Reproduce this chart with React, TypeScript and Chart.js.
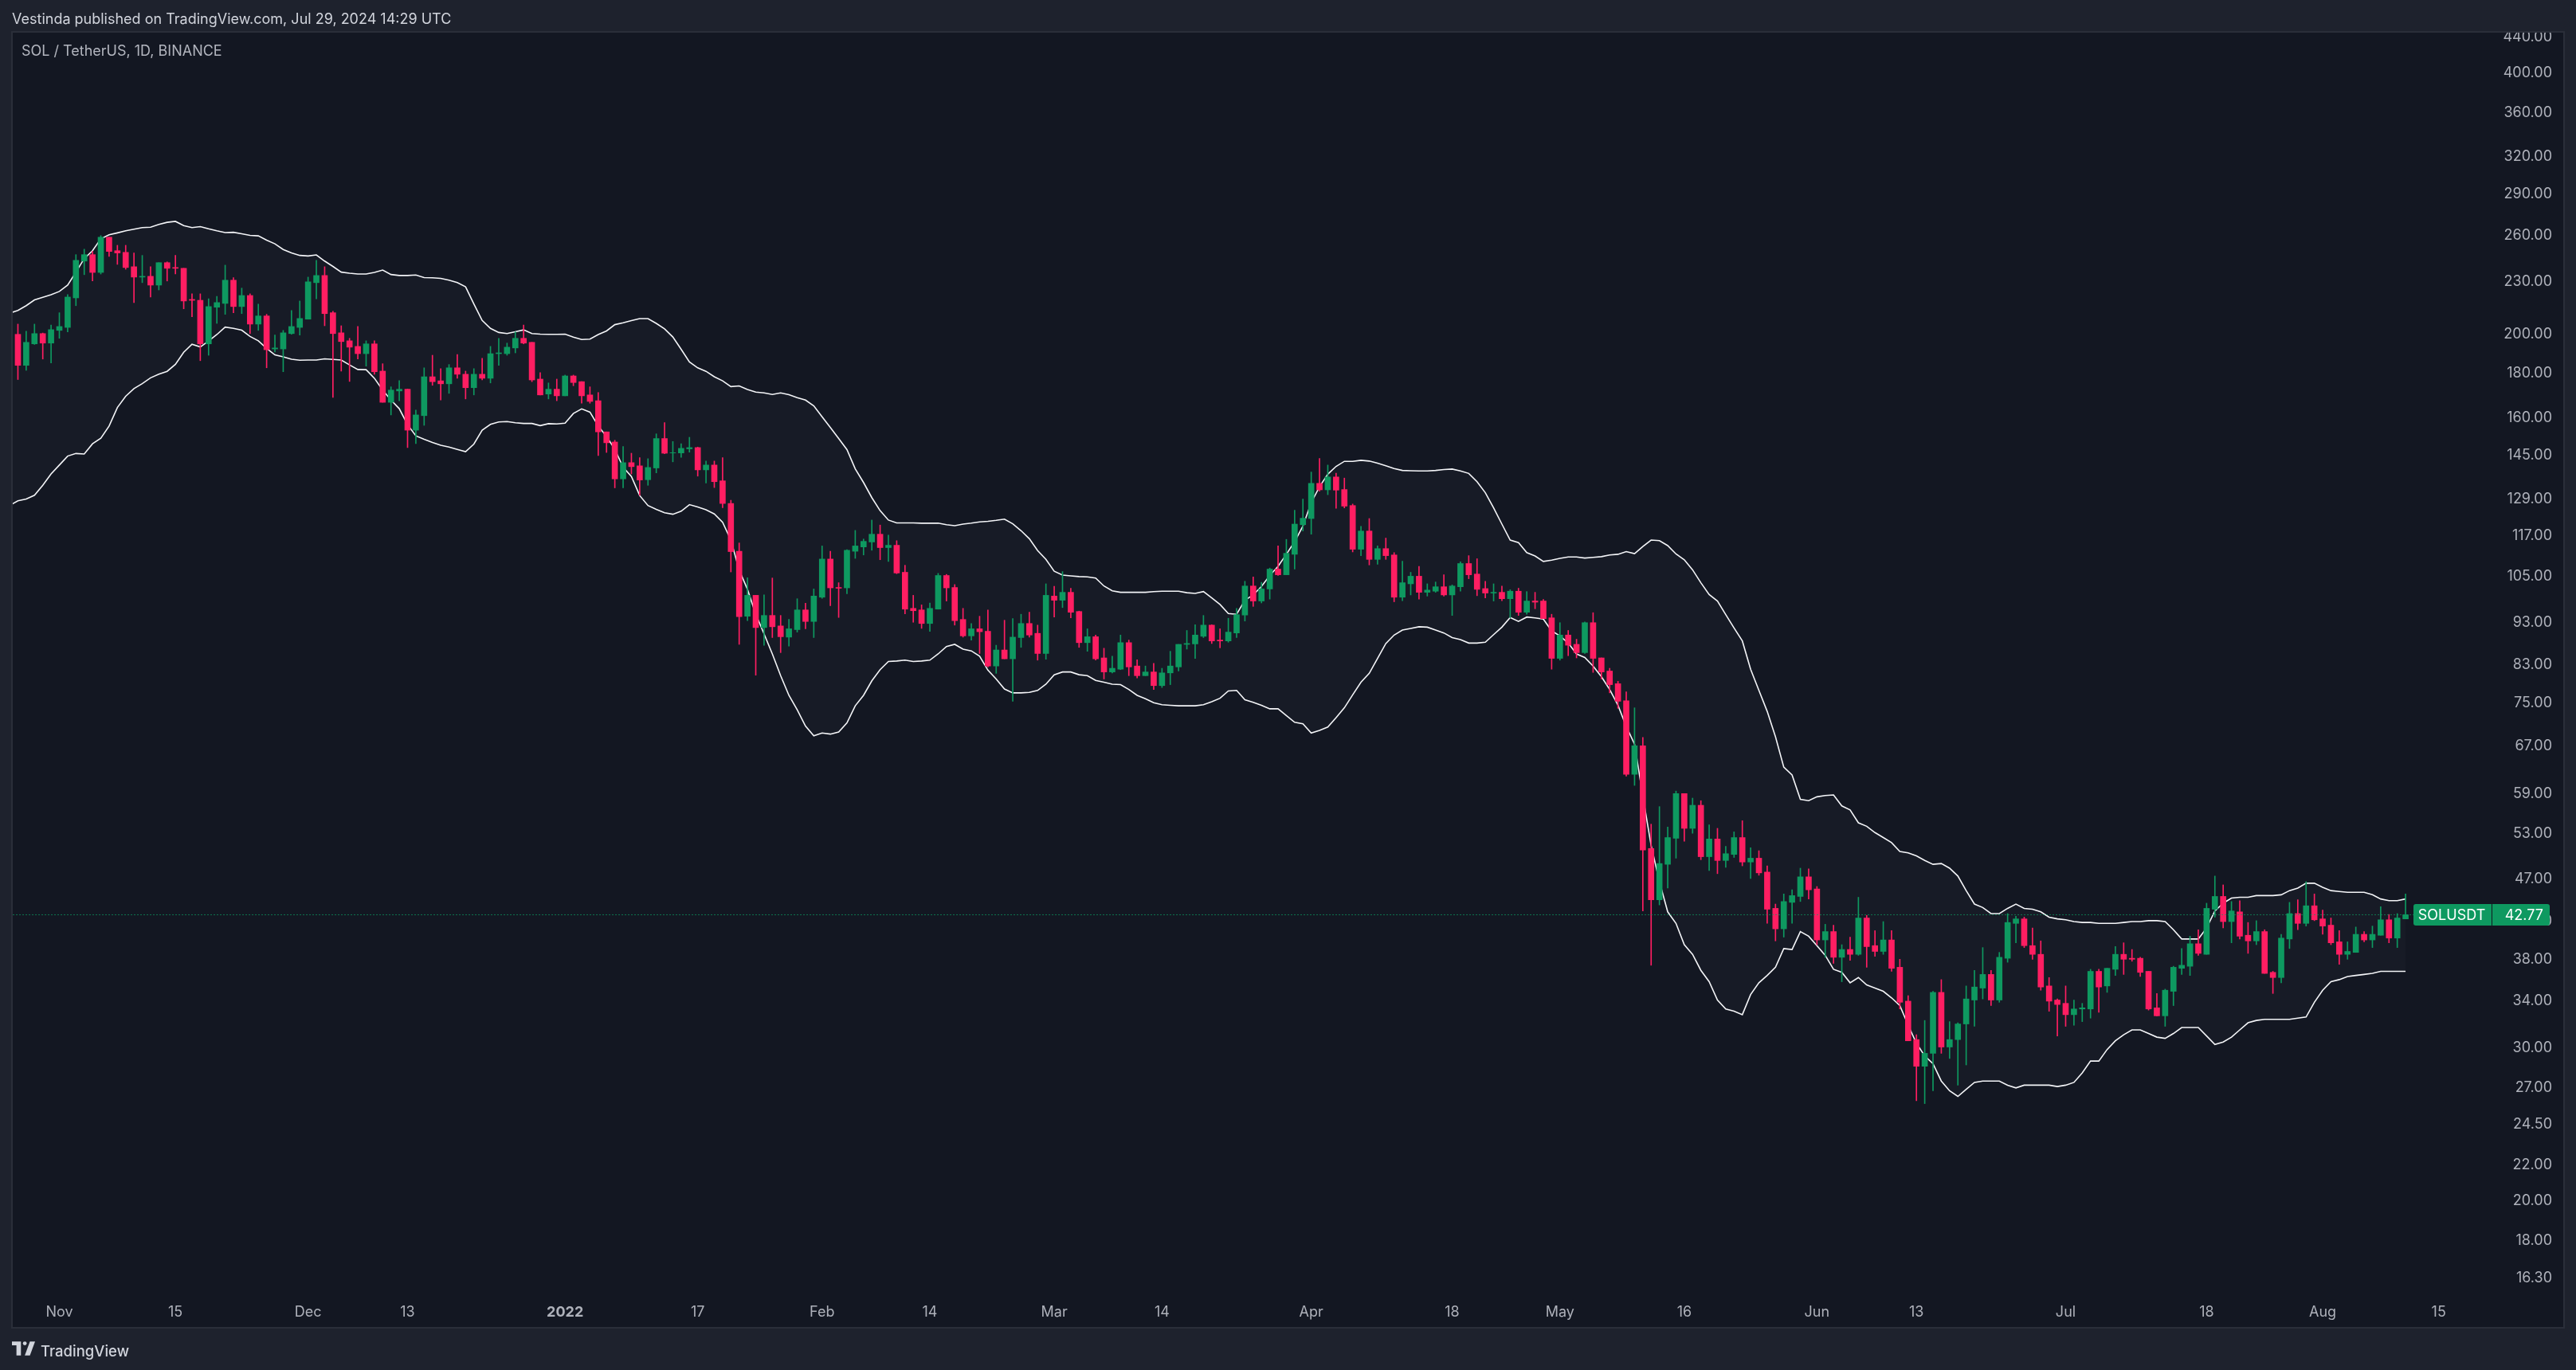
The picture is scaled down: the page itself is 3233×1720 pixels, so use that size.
import { useEffect, useRef } from "react";
import { Chart, registerables } from "chart.js";

Chart.register(...registerables);

// x values are days counted from 1 Nov 2021, the first candle sits 6 days earlier
const firstDay = -6;

const opens = [
  209.9,199.8,184.0,194.8,200.2,195.2,201.9,203.5,220.1,242.7,
  246.9,235.5,258.6,249.5,248.4,239.1,232.6,233.1,227.7,241.7,
  238.6,238.1,219.2,218.7,194.8,214.7,216.9,230.7,215.1,221.5,
  205.3,209.8,192.2,192.2,200.2,203.5,208.0,229.2,233.6,211.6,
  200.6,196.4,193.5,189.8,194.8,181.2,166.8,171.9,172.7,154.9,
  161.0,178.5,176.6,175.2,182.8,179.7,173.4,179.7,177.8,189.8,
  189.8,192.7,197.7,195.6,177.4,170.5,172.7,169.7,178.9,176.2,
  170.1,167.5,154.2,150.1,136.1,142.1,140.9,135.8,140.1,151.5,
  145.8,145.8,147.4,147.9,139.4,141.2,135.4,127.5,112.3,94.5,
  99.9,91.7,94.7,92.1,89.4,91.2,96.1,93.2,99.4,110.0,
  102.0,101.9,112.3,113.6,115.1,117.5,113.4,114.1,106.2,96.5,
  96.1,92.7,96.3,105.3,102.0,93.7,89.7,91.4,90.8,82.8,
  86.4,84.4,89.3,92.7,90.3,85.6,99.7,98.6,100.7,95.7,
  88.1,89.5,84.6,81.5,82.1,88.1,82.8,80.7,81.5,78.6,
  81.3,82.6,87.7,87.8,89.6,92.3,88.7,88.5,90.4,94.8,
  102.4,98.4,101.6,107.1,105.5,111.4,120.5,122.5,134.5,132.2,
  136.8,132.3,126.8,112.9,118.5,109.9,113.1,111.2,99.4,103.0,
  105.1,100.7,101.0,102.2,100.0,102.2,108.7,105.7,101.7,100.5,
  100.7,99.0,101.0,95.5,98.4,98.4,94.1,84.5,89.9,87.7,
  85.8,92.9,84.6,81.7,79.0,75.5,62.1,67.0,51.0,44.5,
  48.9,52.4,59.0,53.8,57.2,49.9,52.3,49.4,50.2,52.5,
  49.2,49.7,47.9,43.5,41.2,44.2,44.9,47.3,45.8,40.0,
  40.9,38.2,39.0,38.5,42.4,39.4,38.8,40.0,37.2,34.0,
  30.7,28.6,29.6,34.8,30.1,30.7,32.0,34.1,35.2,36.5,
  34.1,38.1,41.8,42.3,39.4,38.5,35.4,34.1,33.8,32.8,
  33.3,33.3,36.8,35.4,37.0,38.5,38.1,38.1,36.8,33.4,
  32.7,34.9,37.1,37.3,39.6,38.5,43.4,44.9,42.0,43.1,
  40.5,39.9,40.9,36.7,36.2,40.1,42.9,41.8,43.8,42.3,
  41.6,39.8,38.5,38.7,40.6,40.0,40.5,42.2,40.2,42.3,
];

const highs = [
  209.9,205.3,201.5,205.3,200.5,204.8,211.6,222.0,246.9,250.5,
  249.0,259.7,258.6,253.1,253.1,248.0,246.4,239.1,241.7,242.2,
  246.4,238.1,222.5,222.5,219.6,221.0,240.1,232.2,225.9,222.5,
  216.5,210.7,199.4,201.9,212.9,218.3,232.6,243.2,239.1,212.4,
  204.4,197.7,204.0,196.4,196.4,184.8,173.8,176.7,172.7,163.4,
  182.8,189.0,182.4,184.4,189.4,181.2,182.4,187.5,193.5,197.7,
  195.2,201.1,204.8,195.6,180.5,175.6,177.4,179.3,179.3,176.2,
  173.8,171.2,154.2,150.8,148.3,145.7,144.0,143.6,153.4,158.0,
  150.3,149.4,152.0,148.1,142.7,142.7,144.0,128.6,114.8,104.7,
  99.9,100.0,104.6,94.7,93.7,99.0,97.8,101.6,113.9,112.3,
  103.3,112.8,118.7,116.0,122.0,120.4,117.2,115.5,108.2,99.9,
  97.4,97.9,105.9,105.6,102.8,96.5,92.7,94.5,96.1,87.5,
  93.5,93.9,95.0,95.5,92.3,103.0,102.3,106.4,101.8,95.8,
  91.4,89.9,86.8,85.0,89.9,88.7,84.2,82.8,83.4,82.3,
  86.1,87.7,91.0,92.4,94.7,92.4,91.4,94.0,96.5,103.7,
  104.9,103.4,107.4,113.9,115.9,125.2,129.0,138.6,143.7,141.2,
  138.2,136.4,127.3,120.0,122.5,113.9,116.3,111.9,109.4,106.2,
  107.9,103.0,103.5,105.5,102.7,109.2,111.0,110.1,103.7,103.0,
  102.4,101.4,101.8,100.9,100.7,98.8,95.0,92.9,91.0,88.9,
  93.1,95.4,84.6,82.3,79.5,77.3,74.1,68.5,54.4,57.0,
  54.0,59.4,59.0,58.3,57.9,54.3,53.8,51.3,53.3,54.9,
  51.1,50.7,48.7,44.0,45.2,45.7,48.4,48.3,46.1,41.7,
  41.6,39.5,40.3,44.8,42.7,41.0,42.0,41.0,38.0,34.5,
  31.1,32.3,34.9,36.0,32.2,32.1,35.4,36.9,39.2,36.9,
  38.7,42.9,42.6,42.5,41.3,39.9,36.2,34.2,35.4,34.1,
  33.8,37.0,37.0,37.1,39.3,39.7,39.0,38.2,36.8,34.7,
  35.1,37.3,39.1,40.4,41.1,44.1,47.4,46.3,44.3,44.4,
  41.9,42.1,41.1,36.8,40.6,44.2,44.5,46.7,45.2,43.3,
  42.4,41.0,39.8,41.4,40.9,41.5,43.7,42.8,42.9,45.2,
];

const lows = [
  199.8,177.2,181.6,194.5,187.1,185.2,197.7,201.1,215.6,234.1,
  230.2,234.5,245.8,240.6,237.5,217.4,229.2,220.6,224.8,230.2,
  234.5,213.8,209.4,186.3,189.0,205.7,210.7,211.6,211.1,200.2,
  201.9,182.8,190.6,180.9,199.8,199.4,208.0,219.6,204.4,169.0,
  181.2,176.3,187.1,183.6,179.7,166.8,161.3,167.5,147.9,149.5,
  156.9,174.5,167.8,170.8,177.8,168.3,170.1,177.0,175.6,184.0,
  189.0,190.2,194.8,176.2,170.1,168.3,167.5,169.7,174.3,166.4,
  166.4,144.8,146.0,132.9,132.9,137.9,130.3,133.8,138.3,145.5,
  142.4,144.1,146.1,137.1,134.6,133.0,126.1,106.3,87.7,93.4,
  80.8,87.5,89.3,85.8,87.3,90.6,91.4,89.3,99.1,97.2,
  94.2,100.3,110.2,111.2,112.6,109.8,109.3,105.8,95.1,93.0,
  91.5,90.8,96.3,98.4,92.3,89.4,88.7,85.6,82.6,81.2,
  84.4,75.4,87.0,89.4,84.1,84.3,94.3,96.7,94.1,87.0,
  86.1,84.1,80.0,81.3,82.0,80.7,80.2,80.7,77.8,78.2,
  78.8,81.7,86.6,84.5,89.3,87.9,86.9,88.2,89.3,93.3,
  97.0,97.9,98.9,105.3,105.5,107.1,118.5,117.5,131.7,130.5,
  125.9,126.0,112.1,111.0,108.3,108.5,109.9,98.2,98.5,100.0,
  98.9,99.7,100.7,99.7,94.7,101.0,104.4,99.8,99.2,98.4,
  98.5,94.1,94.7,95.0,96.4,93.9,82.1,84.1,85.1,84.6,
  85.6,81.4,80.0,77.1,74.0,61.8,60.3,43.2,37.4,43.9,
  45.9,49.7,52.0,53.1,49.5,48.1,47.7,48.5,49.8,48.7,
  47.1,47.5,41.8,39.9,40.3,41.8,44.3,44.6,39.5,38.2,
  37.6,35.8,37.9,38.4,37.2,38.3,38.5,36.8,33.3,30.6,
  26.1,25.9,26.8,29.6,29.2,27.2,28.7,31.8,34.2,33.6,
  33.9,37.7,39.7,39.2,38.0,35.0,33.1,31.0,31.8,31.9,
  32.2,32.5,33.0,34.8,36.4,36.5,37.8,36.3,33.2,32.7,
  31.8,33.6,36.5,36.4,38.4,38.5,42.5,41.3,39.7,40.1,
  38.6,39.5,36.6,34.7,35.7,39.1,41.1,41.5,42.1,40.6,
  39.5,37.5,38.0,38.7,39.8,39.2,40.5,39.7,39.2,42.3,
];

const closes = [
  199.8,184.0,195.6,200.2,195.2,202.3,204.0,220.6,243.2,246.9,
  235.5,258.6,249.0,248.0,238.6,232.6,233.1,227.7,241.7,238.1,
  238.1,218.3,218.7,194.8,215.1,217.4,230.7,215.1,221.5,205.3,
  209.8,191.8,192.7,200.6,204.0,208.4,229.7,233.6,211.1,200.2,
  196.0,193.1,189.8,194.8,180.9,166.8,172.3,172.7,154.9,161.3,
  178.5,176.2,175.2,182.8,179.7,173.4,179.7,177.8,189.8,190.2,
  193.1,197.7,195.2,177.0,170.1,172.7,169.7,178.9,175.8,169.7,
  167.2,154.2,149.8,136.1,142.1,140.6,135.7,140.3,151.5,145.7,
  145.9,147.6,147.9,139.4,141.2,135.1,127.5,112.2,94.4,99.9,
  91.7,94.7,91.9,89.5,91.4,96.1,93.2,99.7,110.0,101.9,
  101.8,112.6,113.9,115.3,117.5,113.4,114.1,106.0,96.3,95.9,
  92.7,96.5,105.3,101.9,93.4,89.7,91.4,90.7,82.8,86.4,
  84.4,89.4,92.7,89.9,85.6,99.9,98.6,100.7,95.5,88.1,
  89.5,84.4,81.5,82.3,88.1,82.6,80.7,81.5,78.6,81.3,
  82.8,87.7,87.9,89.9,92.3,88.5,88.5,90.6,94.9,102.4,
  98.4,101.6,107.1,105.5,111.7,120.7,122.6,134.5,132.2,136.8,
  132.1,126.6,112.9,118.5,109.9,113.1,111.0,99.4,103.3,105.1,
  100.7,101.3,102.2,100.0,102.4,108.7,105.5,101.5,100.5,100.7,
  99.0,101.0,95.5,98.4,98.1,93.9,84.5,89.9,87.5,85.8,
  92.9,84.5,81.5,78.8,75.4,62.1,67.0,50.8,44.5,49.0,
  52.5,59.0,53.8,57.2,49.9,52.3,49.4,50.3,52.5,49.2,
  49.7,47.8,43.4,41.2,44.3,45.0,47.3,45.7,40.0,40.9,
  38.2,39.0,38.5,42.4,39.3,38.8,40.0,37.1,33.9,30.6,
  28.6,29.6,34.8,30.1,30.7,32.0,34.2,35.3,36.5,34.1,
  38.2,41.9,42.3,39.4,38.5,35.3,34.0,33.7,32.8,33.3,
  33.4,36.8,35.3,37.1,38.5,38.0,38.0,36.7,33.3,32.7,
  35.0,37.2,37.4,39.6,38.6,43.5,44.9,42.0,43.2,40.4,
  39.9,40.9,36.6,36.2,40.2,42.9,41.8,43.8,42.2,41.5,
  39.7,38.5,38.8,40.6,40.0,40.6,42.2,40.2,42.4,42.77,
];

const upperBand = [
  211.4,212.9,215.6,218.9,220.4,222.0,223.9,227.7,235.7,244.3,
  249.5,257.5,260.3,261.6,263.0,264.2,265.3,265.6,267.5,269.0,
  269.7,266.7,265.3,266.0,264.4,263.0,261.8,262.0,261.0,259.9,
  259.5,256.6,254.1,250.3,248.0,246.4,246.0,246.7,242.7,239.3,
  235.7,235.0,234.5,234.5,235.5,237.0,234.2,233.6,233.6,233.9,
  232.3,232.2,231.8,230.7,229.2,226.7,216.6,207.3,203.0,200.8,
  200.2,201.2,202.2,200.2,199.9,199.8,199.8,199.9,198.3,197.1,
  197.3,199.7,201.6,205.0,206.0,207.2,208.3,208.3,205.7,202.7,
  198.4,192.0,185.7,182.8,181.1,178.5,176.6,173.9,174.2,172.6,
  171.4,171.0,170.3,171.0,170.2,168.9,167.8,165.2,160.5,156.0,
  151.5,147.1,139.8,134.8,129.5,125.1,122.0,121.1,121.1,121.1,
  121.0,121.0,121.0,120.5,120.2,120.7,121.0,121.4,121.6,121.9,
  122.3,120.8,118.6,116.1,112.5,109.9,106.5,105.4,105.2,105.0,
  104.9,104.6,102.4,101.1,100.7,100.7,100.7,100.7,100.9,101.0,
  101.0,101.0,100.6,100.4,100.9,99.2,97.5,95.2,95.0,98.6,
  100.0,102.3,105.3,107.9,111.4,115.2,120.1,127.8,133.3,137.8,
  140.7,142.6,142.6,143.0,142.7,141.9,140.9,139.9,139.2,139.1,
  139.0,139.0,139.2,139.5,139.7,139.0,138.1,135.1,131.2,126.0,
  120.7,115.7,114.9,111.9,110.9,109.3,109.7,110.2,110.6,110.6,
  110.3,110.5,110.7,111.2,111.4,112.2,111.6,113.7,115.7,115.5,
  114.0,111.5,109.8,106.9,103.3,100.1,98.4,94.9,91.6,88.5,
  82.1,77.6,73.4,68.6,63.3,62.0,58.1,57.9,58.5,58.7,
  58.8,57.1,56.5,54.6,54.1,53.2,52.5,51.8,50.6,50.4,
  50.0,49.4,48.9,49.0,48.4,47.4,45.6,44.0,43.6,42.9,
  42.9,43.5,44.0,43.5,43.4,43.1,42.5,42.3,42.2,42.0,
  41.9,41.9,41.8,41.8,41.8,41.9,42.0,42.0,42.1,42.1,
  42.0,41.1,40.1,40.1,40.1,41.3,43.2,44.1,44.7,44.8,
  44.8,45.0,45.0,45.0,45.1,45.6,45.9,46.5,46.5,46.0,
  45.6,45.5,45.4,45.4,45.4,45.1,44.6,44.4,44.4,44.6,
];

const lowerBand = [
  126.8,128.4,129.0,130.3,133.8,137.9,141.2,144.6,145.6,145.4,
  149.4,151.6,156.6,164.5,169.5,173.0,175.3,178.0,179.7,181.1,
  184.5,190.5,194.6,193.2,196.3,199.7,203.7,203.0,202.0,198.7,
  196.4,192.5,189.2,188.2,187.0,186.5,186.6,186.6,187.2,186.9,
  186.6,184.2,182.0,181.9,177.8,172.3,167.8,164.0,157.2,152.6,
  151.2,149.9,148.8,148.1,147.2,146.3,149.3,154.9,157.3,158.3,
  158.5,158.0,157.7,157.7,156.8,157.6,157.5,157.8,161.9,163.9,
  162.5,156.6,152.3,147.2,140.4,137.0,130.2,126.8,125.5,124.4,
  123.9,124.9,127.1,126.3,125.4,124.0,121.3,115.7,106.8,101.5,
  95.0,90.2,85.5,80.7,76.6,73.7,70.6,68.8,69.3,69.1,
  69.5,71.2,74.5,76.6,79.6,82.0,83.8,83.9,84.1,83.8,
  83.9,84.1,85.5,87.2,87.7,86.6,86.2,85.0,81.9,80.0,
  77.9,77.1,77.1,77.2,77.6,78.9,80.9,81.5,81.5,80.9,
  80.7,79.7,79.3,78.9,78.8,77.8,76.6,75.9,75.1,74.7,
  74.6,74.5,74.5,74.5,74.7,75.3,76.0,77.5,77.6,75.7,
  75.2,74.6,73.9,73.9,72.6,71.3,71.0,69.3,69.8,70.4,
  72.2,74.1,76.7,79.3,81.2,84.5,87.9,89.9,91.1,91.5,
  91.9,91.8,91.1,90.4,89.3,88.8,88.0,88.0,88.2,90.0,
  91.8,94.2,93.2,94.3,94.1,93.8,90.9,89.7,88.0,85.5,
  84.7,82.8,80.5,77.8,74.6,70.5,67.3,58.6,51.4,46.7,
  43.1,41.8,39.5,38.5,36.9,35.8,34.1,33.3,33.1,32.8,
  34.6,35.7,36.4,37.2,39.1,39.0,40.9,40.4,39.4,38.4,
  37.0,36.7,35.7,36.2,35.5,35.2,34.9,34.3,33.6,31.9,
  30.4,29.4,28.8,27.5,26.8,26.4,26.9,27.4,27.5,27.5,
  27.5,27.2,27.0,27.2,27.2,27.2,27.2,27.1,27.2,27.4,
  28.1,29.0,29.0,29.9,30.6,31.1,31.5,31.5,31.2,30.9,
  30.8,31.2,31.7,31.7,31.7,31.0,30.3,30.5,30.9,31.5,
  32.1,32.3,32.4,32.4,32.4,32.4,32.5,32.6,33.9,35.0,
  35.8,36.0,36.3,36.4,36.5,36.6,36.8,36.8,36.8,36.8,
];

const priceTicks = [
  440, 400, 360, 320, 290, 260, 230, 200, 180, 160, 145, 129, 117, 105, 93, 83,
  75, 67, 59, 53, 47, 42, 38, 34, 30, 27, 24.5, 22, 20, 18, 16.3,
];
const dateTickDays = [0, 14, 30, 42, 61, 77, 92, 105, 120, 133, 151, 168, 181, 196, 212, 224, 242, 259, 273, 287];
const dateTickLabels = ["Nov", "15", "Dec", "13", "2022", "17", "Feb", "14", "Mar", "14", "Apr", "18", "May", "16", "Jun", "13", "Jul", "18", "Aug", "15"];

const lastPrice = 42.77;
const GREEN = "#0e9960";
const RED = "#ff1e62";
const PANEL = "#131722";
const CHROME = "#1e222d";
const EDGE = "#2a2e39";
const TICK = "#aeb1ba";
const FONT = "Inter";

const days = opens.map((_, i) => firstDay + i);
const candleColors = opens.map((o, i) => (closes[i] >= o ? GREEN : RED));

// frame and price tag are painted around the scales
const framePlugin = {
  id: "frame",
  beforeDraw(chart: any) {
    const { ctx, chartArea: a } = chart;
    ctx.save();
    ctx.fillStyle = PANEL;
    ctx.fillRect(a.left, a.top, a.right - a.left, a.bottom - a.top);
    ctx.restore();
  },
  afterDraw(chart: any) {
    const { ctx, chartArea: a, width } = chart;
    ctx.save();
    // the top price label is cut off by the panel edge
    ctx.fillStyle = CHROME;
    ctx.fillRect(0, 0, width, a.top);
    ctx.strokeStyle = EDGE;
    ctx.lineWidth = 2;
    ctx.strokeRect(a.left - 1, a.top - 1, a.right - a.left + 2, a.bottom - a.top + 2);

    const y = chart.scales.y.getPixelForValue(lastPrice);
    const left = a.right - 188;
    const right = a.right - 17;
    ctx.fillStyle = GREEN;
    ctx.beginPath();
    ctx.roundRect(left, y - 13.5, right - left, 27, 3);
    ctx.fill();
    ctx.fillStyle = PANEL;
    ctx.fillRect(left + 98, y - 13.5, 1, 27);
    ctx.fillStyle = "#ffffff";
    ctx.font = `18px ${FONT}`;
    ctx.textBaseline = "middle";
    ctx.textAlign = "center";
    ctx.fillText("SOLUSDT", left + 48, y + 1);
    ctx.textAlign = "right";
    ctx.fillText(lastPrice.toFixed(2), right - 8, y + 1);
    ctx.restore();
  },
};

function SolChart() {
  const canvasRef = useRef<HTMLCanvasElement>(null);

  useEffect(() => {
    if (!canvasRef.current) return;

    const chart = new Chart(canvasRef.current, {
      type: "bar",
      plugins: [framePlugin],
      data: {
        datasets: [
          {
            type: "line",
            data: days.map((x, i) => ({ x, y: upperBand[i] })),
            borderColor: "#f4f5f8",
            borderWidth: 1.6,
            pointRadius: 0,
            tension: 0,
            fill: "+1",
            backgroundColor: "rgba(255,255,255,0.02)",
            order: 4,
          },
          {
            type: "line",
            data: days.map((x, i) => ({ x, y: lowerBand[i] })),
            borderColor: "#f4f5f8",
            borderWidth: 1.6,
            pointRadius: 0,
            tension: 0,
            fill: false,
            order: 4,
          },
          {
            // wicks
            data: days.map((x, i) => ({ x, y: [lows[i], highs[i]] })),
            backgroundColor: candleColors,
            barThickness: 1,
            grouped: false,
            order: 3,
          },
          {
            // bodies
            data: days.map((x, i) => ({ x, y: [opens[i], closes[i]] })),
            backgroundColor: candleColors,
            barThickness: 7,
            grouped: false,
            order: 2,
          },
          {
            type: "line",
            data: [
              { x: -6, y: lastPrice },
              { x: 284, y: lastPrice },
            ],
            borderColor: "rgba(14,153,96,0.75)",
            borderWidth: 1,
            borderDash: [2, 2],
            pointRadius: 0,
            fill: false,
            order: 1,
          },
        ],
      } as any,
      options: {
        responsive: false,
        devicePixelRatio: 1,
        animation: false,
        events: [],
        layout: {
          autoPadding: false,
          padding: { left: 16, right: 16, top: 41, bottom: 54 },
        },
        plugins: {
          legend: { display: false },
          tooltip: { enabled: false },
          title: { display: false },
        },
        scales: {
          x: {
            type: "linear",
            position: "bottom",
            min: -5.622,
            max: 302.02,
            offset: false,
            bounds: "data",
            grid: { display: false },
            border: { display: false },
            afterBuildTicks: (scale: any) => {
              scale.ticks = dateTickDays.map((value) => ({ value }));
            },
            afterFit: (scale: any) => {
              scale.height = 0;
            },
            ticks: {
              autoSkip: false,
              maxRotation: 0,
              minRotation: 0,
              mirror: true,
              padding: 8,
              color: TICK,
              font: (c: any) => ({
                family: FONT,
                size: 18,
                weight: c.tick?.value === 61 ? "bold" : "normal",
              }),
              callback: (value: any) => dateTickLabels[dateTickDays.indexOf(Number(value))],
            },
          },
          y: {
            type: "logarithmic",
            position: "right",
            min: 14.31,
            max: 445.2,
            bounds: "data",
            grid: { display: false },
            border: { display: false },
            afterBuildTicks: (scale: any) => {
              scale.ticks = priceTicks.map((value) => ({ value }));
            },
            afterFit: (scale: any) => {
              scale.width = 0;
            },
            ticks: {
              autoSkip: false,
              mirror: true,
              padding: -14,
              color: TICK,
              font: { family: FONT, size: 18 },
              callback: (value: any) => Number(value).toFixed(2),
            },
          },
        },
      },
    } as any);

    return () => chart.destroy();
  }, []);

  return <canvas ref={canvasRef} width={3233} height={1720} style={{ display: "block" }} />;
}

const textStyle = { position: "absolute", fontFamily: FONT, whiteSpace: "nowrap", lineHeight: "24px" } as const;

export default function App() {
  return (
    <div style={{ position: "fixed", left: 0, top: 0, width: 3233, height: 1720, background: CHROME, overflow: "hidden" }}>
      <SolChart />
      <div style={{ ...textStyle, left: 15, top: 12, fontSize: 18, color: "#d1d4dc" }}>
        Vestinda published on TradingView.com, Jul 29, 2024 14:29 UTC
      </div>
      <div style={{ ...textStyle, left: 27, top: 52, fontSize: 18, color: "#b2b5be" }}>
        SOL / TetherUS, 1D, BINANCE
      </div>
      <svg style={{ position: "absolute", left: 15, top: 1684 }} width="29" height="18" viewBox="0 6 36 22" fill="#d1d4dc">
        <path d="M14 6H0v6h7v16h7V6Z" />
        <path d="M28 6h8l-8 22h-8l8-22Z" />
        <circle cx="20" cy="9" r="3" />
      </svg>
      <div style={{ ...textStyle, left: 51, top: 1684, fontSize: 18.5, fontWeight: 500, color: "#d1d4dc" }}>TradingView</div>
    </div>
  );
}
